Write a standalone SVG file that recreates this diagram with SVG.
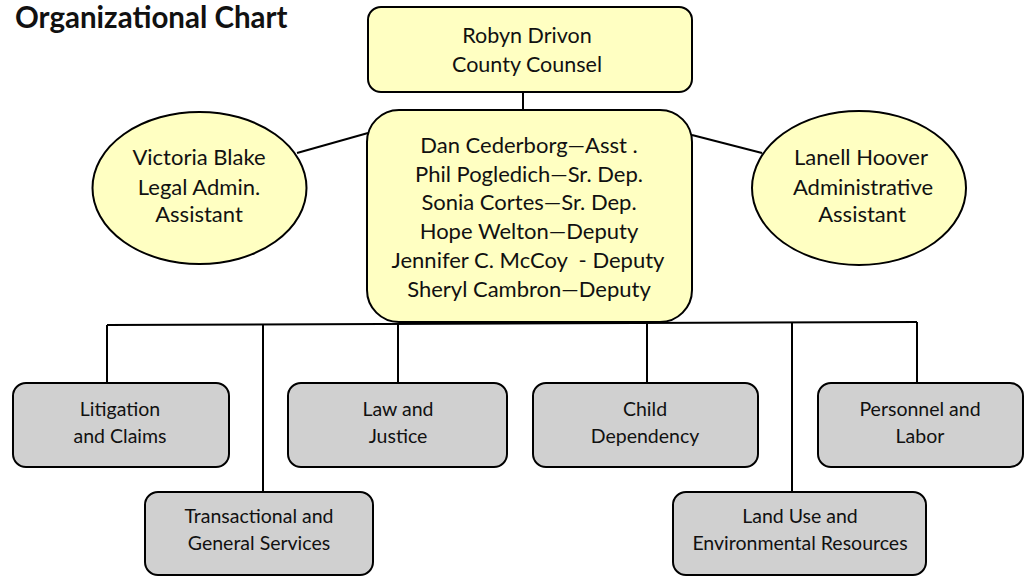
<svg xmlns="http://www.w3.org/2000/svg" width="1031" height="577" viewBox="0 0 1031 577">
  <style>
    text { font-family: Lato, "Open Sans", "Liberation Sans", sans-serif; fill: #111; text-anchor: middle; }
    .title { font-size: 29.5px; font-weight: bold; text-anchor: start; }
    .lead { fill: #ffffc2; stroke: #000; stroke-width: 2; }
    .dept { fill: #d0d0d0; stroke: #000; stroke-width: 2; }
    .big { font-size: 22px; white-space: pre; }
    .mid { font-size: 22px; }
    .top { font-size: 21.5px; }
    .small { font-size: 19.5px; }
    .links line { stroke: #000; stroke-width: 2; }
  </style>

  <text class="title" x="15" y="28">Organizational Chart</text>

  <!-- connectors -->
  <g class="links" id="connectors">
    <line x1="523" y1="92" x2="523" y2="111"/>
    <line x1="297" y1="153" x2="368" y2="133"/>
    <line x1="692" y1="135" x2="762" y2="153"/>
    <line x1="107" y1="325" x2="917" y2="322"/>
    <line x1="107" y1="325" x2="107" y2="383"/>
    <line x1="263" y1="324.5" x2="263" y2="492"/>
    <line x1="398" y1="324" x2="398" y2="383"/>
    <line x1="647" y1="323" x2="647" y2="383"/>
    <line x1="792" y1="322.5" x2="792" y2="492"/>
    <line x1="917" y1="322" x2="917" y2="383"/>
  </g>

  <g id="county-counsel">
    <rect class="lead" x="368" y="7" width="324" height="85" rx="13"/>
    <text class="top" x="527" y="43">Robyn Drivon</text>
    <text class="top" x="527" y="72">County Counsel</text>
  </g>

  <g id="deputies">
    <rect class="lead" x="367" y="110" width="325" height="212" rx="32"/>
    <text class="big" x="529" y="153">Dan Cederborg—Asst .</text>
    <text class="big" x="529" y="182">Phil Pogledich—Sr. Dep.</text>
    <text class="big" x="529" y="210">Sonia Cortes—Sr. Dep.</text>
    <text class="big" x="529" y="239">Hope Welton—Deputy</text>
    <text class="big" x="528" y="268">Jennifer C. McCoy  - Deputy</text>
    <text class="big" x="529" y="297">Sheryl Cambron—Deputy</text>
  </g>

  <g id="legal-admin">
    <ellipse class="lead" cx="199.5" cy="188" rx="107" ry="76"/>
    <text class="mid" x="199" y="165">Victoria Blake</text>
    <text class="mid" x="199" y="195">Legal Admin.</text>
    <text class="mid" x="199" y="222">Assistant</text>
  </g>

  <g id="admin-assistant">
    <ellipse class="lead" cx="859" cy="188" rx="107" ry="77"/>
    <text class="mid" x="861" y="165">Lanell Hoover</text>
    <text class="mid" x="863" y="195">Administrative</text>
    <text class="mid" x="862" y="222">Assistant</text>
  </g>

  <g id="litigation">
    <rect class="dept" x="13" y="383" width="216" height="84" rx="13"/>
    <text class="small" x="120" y="416">Litigation</text>
    <text class="small" x="120" y="443">and Claims</text>
  </g>

  <g id="law-justice">
    <rect class="dept" x="288" y="383" width="219" height="84" rx="13"/>
    <text class="small" x="398" y="416">Law and</text>
    <text class="small" x="398" y="443">Justice</text>
  </g>

  <g id="transactional">
    <rect class="dept" x="145" y="492" width="228" height="83" rx="13"/>
    <text class="small" x="259" y="523">Transactional and</text>
    <text class="small" x="259" y="550">General Services</text>
  </g>

  <g id="child-dependency">
    <rect class="dept" x="533" y="383" width="225" height="84" rx="13"/>
    <text class="small" x="645" y="416">Child</text>
    <text class="small" x="645" y="443">Dependency</text>
  </g>

  <g id="land-use">
    <rect class="dept" x="673" y="492" width="253" height="83" rx="13"/>
    <text class="small" x="800" y="523">Land Use and</text>
    <text class="small" x="800" y="550">Environmental Resources</text>
  </g>

  <g id="personnel-labor">
    <rect class="dept" x="818" y="383" width="205" height="84" rx="13"/>
    <text class="small" x="920" y="416">Personnel and</text>
    <text class="small" x="920" y="443">Labor</text>
  </g>
</svg>
